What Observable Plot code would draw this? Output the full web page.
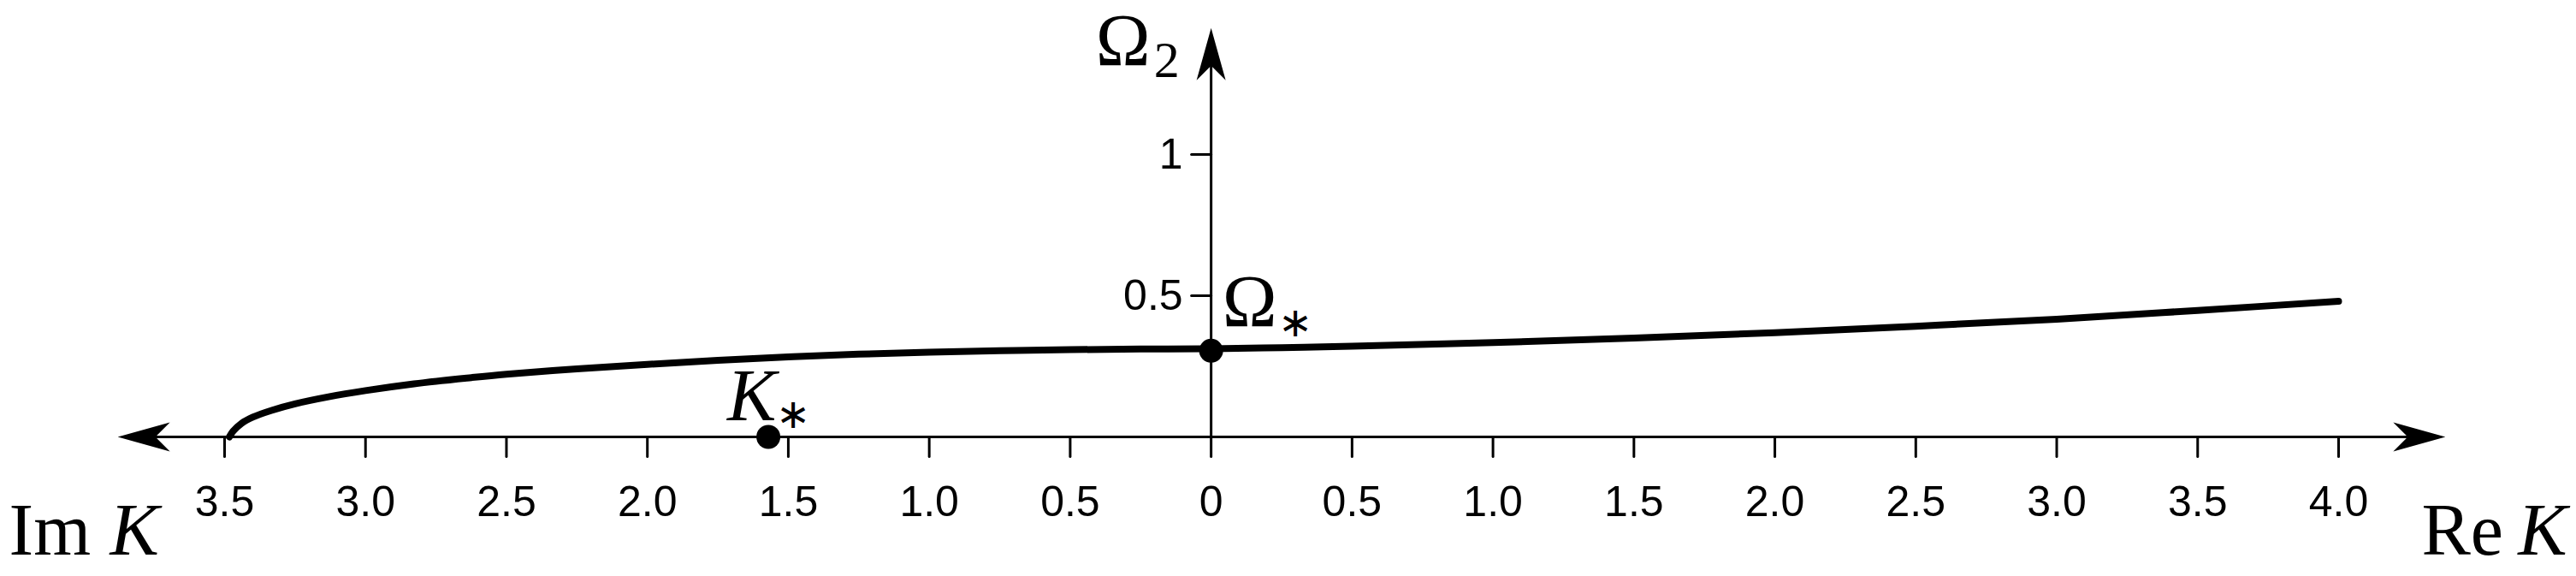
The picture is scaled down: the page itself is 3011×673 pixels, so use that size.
<!DOCTYPE html>
<html><head><meta charset="utf-8">
<script src="https://cdn.jsdelivr.net/npm/d3@7"></script>
<script src="https://cdn.jsdelivr.net/npm/@observablehq/plot@0.6"></script>
<style>html,body{margin:0;padding:0;background:#fff;} svg{display:block}</style>
</head><body><div id="chart"></div>
<script>
// Dispersion curve, Im K branch (|Im K|, Omega_2), drawn to the left of the origin
const imK     = [3.483, 3.47, 3.44, 3.40, 3.333, 3.25, 3.131, 3.0, 2.828, 2.625, 2.5, 2.25, 2.0, 1.75, 1.5, 1.25, 1.0, 0.75, 0.5, 0.25, 0];
const imOmega = [0, 0.02, 0.048, 0.07, 0.094, 0.117, 0.142, 0.164, 0.188, 0.21, 0.222, 0.241, 0.257, 0.271, 0.283, 0.293, 0.300, 0.305, 0.309, 0.311, 0.312];
// Re K branch (Re K, Omega_2), drawn to the right of the origin
const reK     = [0.25, 0.5, 1.0, 1.5, 2.0, 2.5, 3.0, 3.5, 4.0];
const reOmega = [0.316, 0.321, 0.334, 0.350, 0.369, 0.392, 0.417, 0.448, 0.480];
// Marked points: K* on the Im K axis, Omega* on the Omega_2 axis
const pointNames = ["K", "Ω"];
const pointX     = [-1.5708, 0];
const pointY     = [0, 0.305];
// Axis ticks
const xTickValues = [-3.5, -3, -2.5, -2, -1.5, -1, -0.5, 0, 0.5, 1, 1.5, 2, 2.5, 3, 3.5, 4];
const xTickLabels = ["3.5", "3.0", "2.5", "2.0", "1.5", "1.0", "0.5", "0", "0.5", "1.0", "1.5", "2.0", "2.5", "3.0", "3.5", "4.0"];
const yTickValues = [0.5, 1];
const yTickLabels = ["0.5", "1"];
// Axis extents (arrow tips)
const xAxisEnds = [-3.879, 4.379];
const yAxisEnd  = [1.448];

const curve = [
  ...imK.map((k, i) => ({k: -k, w: imOmega[i]})),
  ...reK.map((k, i) => ({k, w: reOmega[i]}))
];
const points = pointNames.map((n, i) => ({n, x: pointX[i], y: pointY[i]}));
const xTicks = xTickValues.map((v, i) => ({v, label: xTickLabels[i]}));
const yTicks = yTickValues.map((v, i) => ({v, label: yTickLabels[i]}));
const arrows = [
  {x: xAxisEnds[0], y: 0, r: -90},
  {x: xAxisEnds[1], y: 0, r: 90},
  {x: 0, y: yAxisEnd[0], r: 0}
];

const arrowHead = {draw(ctx) {
  ctx.moveTo(0, 0); ctx.lineTo(17, 61); ctx.lineTo(0, 44); ctx.lineTo(-17, 61); ctx.closePath();
}};
const tickShape = {draw(ctx, l) { ctx.moveTo(0, 0); ctx.lineTo(0, -l); }};

const serif = "Liberation Serif, Times New Roman, serif";
const sans = "Liberation Sans, Arial, sans-serif";

const chart = Plot.plot({
  width: 3011, height: 673,
  marginTop: 0, marginRight: 0, marginBottom: 0, marginLeft: 0,
  x: {domain: [-3.5, 4], range: [262, 2733], axis: null},
  y: {domain: [0, 1], range: [510, 180], axis: null},
  style: {background: "white", fontFamily: sans},
  marks: [
    Plot.ruleY([0], {x1: xAxisEnds[0] + 0.1, x2: xAxisEnds[1] - 0.1, stroke: "black", strokeWidth: 3}),
    Plot.ruleX([0], {y1: 0, y2: yAxisEnd[0] - 0.1, stroke: "black", strokeWidth: 3}),
    Plot.dot(arrows, {x: "x", y: "y", rotate: "r", symbol: arrowHead, r: 10, fill: "black", stroke: null}),
    Plot.vector(xTicks, {x: "v", y: 0, length: 23, rotate: 180, anchor: "start", shape: tickShape, stroke: "black", strokeWidth: 3}),
    Plot.vector(yTicks, {x: 0, y: "v", length: 23, rotate: -90, anchor: "start", shape: tickShape, stroke: "black", strokeWidth: 3}),
    Plot.text(xTicks, {x: "v", y: 0, text: "label", dy: 92, lineAnchor: "bottom", fontSize: 50, fontFamily: sans, fill: "black"}),
    Plot.text(yTicks, {x: 0, y: "v", text: "label", dx: -33, textAnchor: "end", lineAnchor: "middle", fontSize: 50, fontFamily: sans, fill: "black"}),
    Plot.line(curve, {x: "k", y: "w", curve: "catmull-rom", stroke: "black", strokeWidth: 8}),
    Plot.dot(points, {x: "x", y: "y", r: 14, fill: "black", stroke: null}),
    // Omega_2 axis title
    Plot.text(["Ω"], {x: 0, y: yAxisEnd[0], text: d => d, dx: -135, dy: 43, textAnchor: "start", lineAnchor: "bottom", fontSize: 86, fontFamily: serif}),
    Plot.text(["2"], {x: 0, y: yAxisEnd[0], text: d => d, dx: -67, dy: 57, textAnchor: "start", lineAnchor: "bottom", fontSize: 60, fontFamily: serif}),
    // Omega* label
    Plot.text(points.filter(d => d.n === "Ω"), {x: "x", y: "y", text: "n", dx: 13, dy: -29, textAnchor: "start", lineAnchor: "bottom", fontSize: 86, fontFamily: serif}),
    Plot.text(points.filter(d => d.n === "Ω"), {x: "x", y: "y", text: () => "∗", dx: 78, dy: -32, textAnchor: "start", lineAnchor: "middle", fontSize: 48, fontFamily: serif}),
    // K* label
    Plot.text(points.filter(d => d.n === "K"), {x: "x", y: "y", text: "n", dx: -48, dy: -20, textAnchor: "start", lineAnchor: "bottom", fontSize: 86, fontStyle: "italic", fontFamily: serif}),
    Plot.text(points.filter(d => d.n === "K"), {x: "x", y: "y", text: () => "∗", dx: 9, dy: -26, textAnchor: "start", lineAnchor: "middle", fontSize: 48, fontFamily: serif}),
    // Im K / Re K axis titles
    Plot.text(["Im"], {frameAnchor: "bottom-left", text: d => d, dx: 10, dy: -26, textAnchor: "start", lineAnchor: "bottom", fontSize: 86, fontFamily: serif}),
    Plot.text(["K"], {frameAnchor: "bottom-left", text: d => d, dx: 128, dy: -26, textAnchor: "start", lineAnchor: "bottom", fontSize: 86, fontStyle: "italic", fontFamily: serif}),
    Plot.text(["Re"], {frameAnchor: "bottom-right", text: d => d, dx: -181, dy: -26, textAnchor: "start", lineAnchor: "bottom", fontSize: 86, fontFamily: serif}),
    Plot.text(["K"], {frameAnchor: "bottom-right", text: d => d, dx: -11, dy: -26, textAnchor: "end", lineAnchor: "bottom", fontSize: 86, fontStyle: "italic", fontFamily: serif})
  ]
});
document.getElementById("chart").append(chart);
</script>
</body></html>
